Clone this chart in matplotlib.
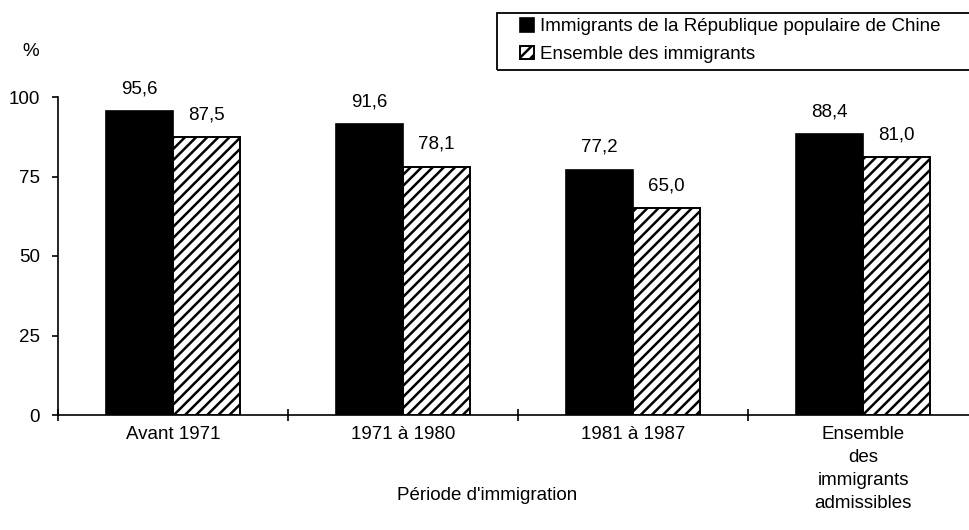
import numpy as np
import matplotlib.pyplot as plt
from matplotlib.ticker import FixedLocator
from matplotlib.patches import Rectangle

plt.rcParams['font.family'] = ['Liberation Sans', 'DejaVu Sans']
plt.rcParams['hatch.linewidth'] = 1.8

# données
periodes = ['Avant 1971', '1971 à 1980', '1981 à 1987', 'Ensemble\ndes\nimmigrants\nadmissibles']
chine = [95.6, 91.6, 77.2, 88.4]
ensemble = [87.5, 78.1, 65.0, 81.0]
series_noms = ['Immigrants de la République populaire de Chine', 'Ensemble des immigrants']

fs = 13.5
fig = plt.figure(figsize=(9.69, 5.30), dpi=100)
ax = fig.add_axes([58 / 969, 1 - 415 / 530, 920 / 969, 318 / 530])

x = np.arange(len(periodes))
w = 0.29
b1 = ax.bar(x - w / 2, chine, w, color='black', edgecolor='black', linewidth=1.2,
            label=series_noms[0])
b2 = ax.bar(x + w / 2, ensemble, w, color='white', edgecolor='black', linewidth=1.4,
            hatch='///', label=series_noms[1])

for rects, vals in ((b1, chine), (b2, ensemble)):
    for r, v in zip(rects, vals):
        ax.text(r.get_x() + r.get_width() / 2, v + 4.3, f'{v:.1f}'.replace('.', ','),
                ha='center', va='bottom', fontsize=fs)

ax.set_xlim(-0.5, len(periodes) - 0.5)
ax.set_ylim(0, 100)
ax.set_yticks([0, 25, 50, 75, 100])
ax.tick_params(axis='y', direction='out', length=4, width=1.2, labelsize=fs, pad=9)
ax.set_xticks(x)
ax.set_xticklabels(periodes, fontsize=fs, linespacing=1.45, va='top')
ax.tick_params(axis='x', which='major', length=0, pad=8)
ax.xaxis.set_minor_locator(FixedLocator(np.arange(len(periodes) + 1) - 0.5))
ax.tick_params(axis='x', which='minor', direction='inout', length=9, width=1.2)

for s in ('top', 'right'):
    ax.spines[s].set_visible(False)
ax.spines['left'].set_linewidth(1.2)
ax.spines['bottom'].set_linewidth(1.2)

fig.text(22 / 969, 1 - 51 / 530, '%', fontsize=fs, ha='left', va='center')
fig.text(487 / 969, 1 - 495 / 530, "Période d'immigration", fontsize=fs,
         ha='center', va='center')

# cadre de la légende (déborde à droite comme dans l'original)
fig.patches.append(Rectangle((497 / 969, 1 - 70 / 530), 0.6, 57 / 530,
                             transform=fig.transFigure, facecolor='none',
                             edgecolor='black', linewidth=1.3))
leg = fig.legend(loc='upper left', bbox_to_anchor=(520 / 969, 1 - 18 / 530),
                 bbox_transform=fig.transFigure, fontsize=fs, frameon=False,
                 borderpad=0, handlelength=0.75, handleheight=0.75, handletextpad=0.3,
                 labelspacing=0.55, borderaxespad=0)

plt.savefig('out.png', dpi=100)
